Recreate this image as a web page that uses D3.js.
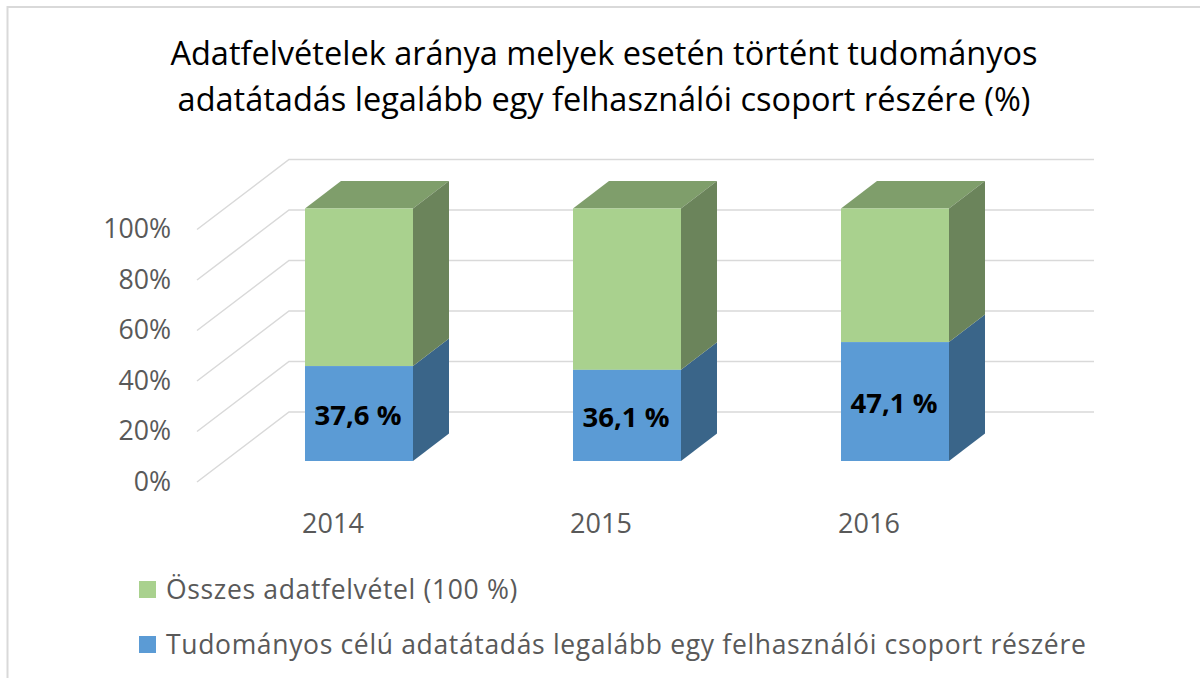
<!DOCTYPE html>
<html>
<head>
<meta charset="utf-8">
<script src="https://cdn.jsdelivr.net/npm/d3@7"></script>
<style>
  html, body { margin: 0; padding: 0; background: #fff; }
  svg { display: block; }
  text { font-family: "Open Sans", "Noto Sans", sans-serif; }
</style>
</head>
<body>
<div id="chart"></div>
<script>
// Data
var years = ["2014", "2015", "2016"];
var scienceShare = [37.6, 36.1, 47.1];
var labels = ["37,6 %", "36,1 %", "47,1 %"];
var totalShare = [100, 100, 100];
var yTicks = [0, 20, 40, 60, 80, 100];
var titleLines = ["Adatfelvételek aránya melyek esetén történt tudományos",
                  "adatátadás legalább egy felhasználói csoport részére (%)"];
var legendNames = ["Összes adatfelvétel (100 %)",
                   "Tudományos célú adatátadás legalább egy felhasználói csoport részére"];

var width = 1200, height = 678;
var green = "#a9d18e", greenSide = "#6b845b", greenTop = "#7f9e6b";
var blue = "#5b9bd5", blueSide = "#3a6589", blueTop = "#4a7ba8";

var svg = d3.select("#chart").append("svg")
    .attr("width", width)
    .attr("height", height);

// Frame of the pasted chart, only top and left show
svg.append("path")
    .attr("d", "M7.5,678V7H1200")
    .attr("fill", "none")
    .attr("stroke", "#d9d9d9")
    .attr("stroke-width", 2);

var x = d3.scaleBand()
    .domain(years)
    .range([225, 1029])
    .paddingInner(0.597)
    .paddingOuter(0.2985);

var y = d3.scaleLinear()
    .domain([0, 100])
    .range([461, 208.5]);

// 3D offsets: wall and floor around the plane of the bars
var wallDy = -49, frontDy = 21;
var floorLeft = 197, floorRight = 289, wallRight = 1094;
var barDx = 36, barDy = -27.5;

// Gridlines
svg.append("g").selectAll("path")
    .data(yTicks)
  .enter().append("path")
    .attr("d", function(d) {
      return "M" + floorLeft + "," + (y(d) + frontDy) +
             "L" + floorRight + "," + (y(d) + wallDy) +
             "H" + wallRight;
    })
    .attr("fill", "none")
    .attr("stroke", "#d9d9d9")
    .attr("stroke-width", 1.5);

// Y tick labels
svg.append("g").selectAll("text")
    .data(yTicks)
  .enter().append("text")
    .attr("x", 171)
    .attr("y", function(d) { return y(d) + frontDy - 1; })
    .attr("dy", "0.36em")
    .attr("text-anchor", "end")
    .attr("fill", "#595959")
    .attr("font-size", 26.7)
    .text(function(d) { return d + "%"; });

// Bars
var bars = svg.append("g").selectAll("g")
    .data(years)
  .enter().append("g");

function side(x0, v0, v1) {
  var xr = x0 + x.bandwidth();
  return "M" + xr + "," + y(v0) +
         "L" + (xr + barDx) + "," + (y(v0) + barDy) +
         "L" + (xr + barDx) + "," + (y(v1) + barDy) +
         "L" + xr + "," + y(v1) + "Z";
}

// top face
bars.append("path")
    .attr("d", function(d, i) {
      var x0 = x(d), top = y(totalShare[i]);
      return "M" + x0 + "," + top +
             "L" + (x0 + barDx) + "," + (top + barDy) +
             "H" + (x0 + x.bandwidth() + barDx) +
             "L" + (x0 + x.bandwidth()) + "," + top + "Z";
    })
    .attr("fill", greenTop);

// side faces
bars.append("path")
    .attr("d", function(d, i) { return side(x(d), 0, scienceShare[i]); })
    .attr("fill", blueSide);
bars.append("path")
    .attr("d", function(d, i) { return side(x(d), scienceShare[i], totalShare[i]); })
    .attr("fill", greenSide);

// front faces
bars.append("rect")
    .attr("x", function(d) { return x(d); })
    .attr("y", function(d, i) { return y(totalShare[i]); })
    .attr("width", x.bandwidth())
    .attr("height", function(d, i) { return y(scienceShare[i]) - y(totalShare[i]); })
    .attr("fill", green);
bars.append("rect")
    .attr("x", function(d) { return x(d); })
    .attr("y", function(d, i) { return y(scienceShare[i]); })
    .attr("width", x.bandwidth())
    .attr("height", function(d, i) { return y(0) - y(scienceShare[i]); })
    .attr("fill", blue);

// Data labels
bars.append("text")
    .attr("x", function(d) { return x(d) + x.bandwidth() / 2 - 1; })
    .attr("y", function(d, i) { return y(scienceShare[i] / 2) + 2; })
    .attr("dy", "0.36em")
    .attr("text-anchor", "middle")
    .attr("fill", "#000")
    .attr("font-size", 27.5)
    .attr("font-weight", 700)
    .text(function(d, i) { return labels[i]; });

// X labels
svg.append("g").selectAll("text")
    .data(years)
  .enter().append("text")
    .attr("x", function(d) { return x(d) + x.bandwidth() / 2 - 26; })
    .attr("y", 533)
    .attr("text-anchor", "middle")
    .attr("fill", "#595959")
    .attr("font-size", 27)
    .text(function(d) { return d; });

// Title
svg.append("g").selectAll("text")
    .data(titleLines)
  .enter().append("text")
    .attr("x", 604)
    .attr("y", function(d, i) { return 65 + i * 46; })
    .attr("text-anchor", "middle")
    .attr("fill", "#000")
    .attr("font-size", 32.5)
    .text(function(d) { return d; });

// Legend
var legend = svg.append("g").selectAll("g")
    .data(legendNames)
  .enter().append("g")
    .attr("transform", function(d, i) { return "translate(139," + (581 + i * 55) + ")"; });

legend.append("rect")
    .attr("width", 17)
    .attr("height", 17)
    .attr("fill", function(d, i) { return i === 0 ? green : blue; });

legend.append("text")
    .attr("x", 27)
    .attr("y", 18)
    .attr("fill", "#595959")
    .attr("font-size", 26.5)
    .attr("letter-spacing", 0.66)
    .text(function(d) { return d; });
</script>
</body>
</html>
